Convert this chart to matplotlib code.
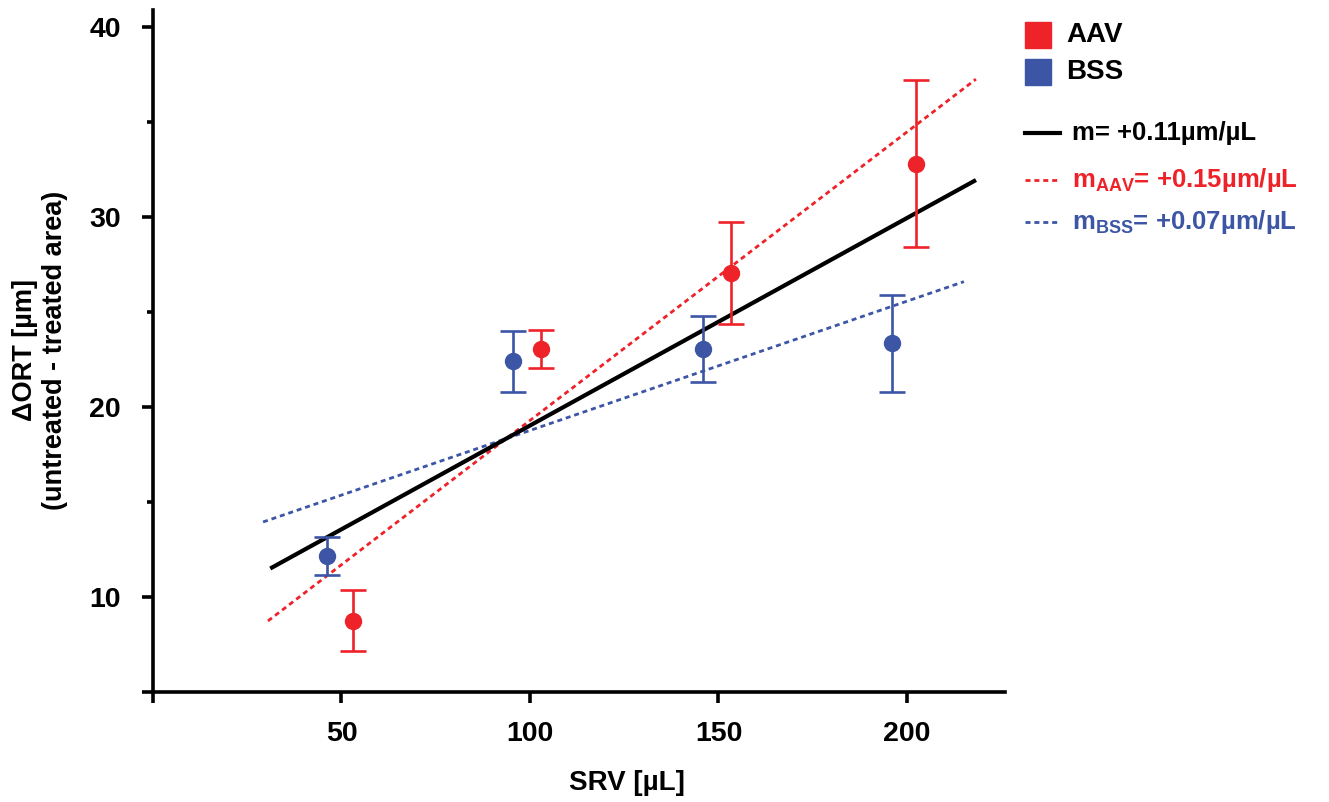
import matplotlib
matplotlib.use("Agg")
import matplotlib.pyplot as plt
from matplotlib.lines import Line2D
from matplotlib.patches import Rectangle

plt.rcParams['font.family'] = ['Liberation Sans', 'DejaVu Sans']
plt.rcParams['font.weight'] = 'bold'
plt.rcParams['mathtext.fontset'] = 'custom'
plt.rcParams['mathtext.rm'] = 'Liberation Sans:bold'
plt.rcParams['mathtext.bf'] = 'Liberation Sans:bold'
plt.rcParams['mathtext.default'] = 'bf'

RED = '#EE2229'
BLUE = '#3C55A5'

# ==== data ====
aav_x = [53.1, 103.0, 153.2, 202.3]
aav_y = [8.75, 23.05, 27.05, 32.8]
aav_err = [1.6, 1.0, 2.7, 4.4]

bss_x = [46.2, 95.6, 146.0, 195.9]
bss_y = [12.15, 22.4, 23.05, 23.35]
bss_err = [1.0, 1.6, 1.75, 2.55]

# regression lines (end points)
fit_all_x = [31.1, 218.3]
fit_all_y = [11.5, 31.95]
fit_aav_x = [30.5, 218.3]
fit_aav_y = [8.74, 37.26]
fit_bss_x = [29.2, 215.1]
fit_bss_y = [13.95, 26.6]

x_ticks = [0, 50, 100, 150, 200]
x_labels = ['', '50', '100', '150', '200']
y_ticks = [5, 10, 20, 30, 40]
y_labels = ['', '10', '20', '30', '40']
y_minor = [15, 25, 35]

# ==== figure ====
fig = plt.figure(figsize=(13.29, 8.02), dpi=100)
ax = fig.add_axes([153 / 1329, 1 - 692 / 802, (1005 - 153) / 1329, (692 - 10) / 802])

ax.plot(fit_all_x, fit_all_y, color='black', lw=3.0, solid_capstyle='butt', zorder=3)
ax.plot(fit_aav_x, fit_aav_y, color=RED, lw=2.0, linestyle=(0, (1.8, 1.4)), zorder=2)
ax.plot(fit_bss_x, fit_bss_y, color=BLUE, lw=2.0, linestyle=(0, (1.8, 1.4)), zorder=2)

ax.errorbar(bss_x, bss_y, yerr=bss_err, fmt='o', color=BLUE, ms=11.5,
            elinewidth=1.9, capsize=9.5, capthick=1.9, zorder=4)
ax.errorbar(aav_x, aav_y, yerr=aav_err, fmt='o', color=RED, ms=11.5,
            elinewidth=1.9, capsize=9.5, capthick=1.9, zorder=4)

ax.set_xlim(0, 226)
ax.set_ylim(5, 40.9)
ax.set_xticks(x_ticks)
ax.set_xticklabels(x_labels)
ax.set_yticks(y_ticks)
ax.set_yticklabels(y_labels)
ax.set_yticks(y_minor, minor=True)

for s in ['top', 'right']:
    ax.spines[s].set_visible(False)
for s in ['left', 'bottom']:
    ax.spines[s].set_linewidth(2.6)

ax.tick_params(which='major', direction='out', length=8, width=2.6, labelsize=20.5)
ax.tick_params(axis='x', which='major', pad=13)
ax.tick_params(axis='y', which='major', pad=15)
ax.tick_params(which='minor', direction='out', length=4.5, width=2.6)

fig.text(627 / 1329, 1 - 783 / 802, 'SRV [µL]', ha='center', va='center', fontsize=20, fontweight='bold')
fig.text(40 / 1329, 1 - 350 / 802, 'ΔORT [µm]\n(untreated - treated area)', rotation=90,
         ha='center', va='center', fontsize=19.5, fontweight='bold', linespacing=1.2,
         multialignment='center')

# ==== legend (manual) ====
W, H = 1329, 802
for y0, col, lab in [(35, RED, 'AAV'), (72, BLUE, 'BSS')]:
    fig.patches.append(Rectangle((1025 / W, 1 - (y0 + 13) / H), 26 / W, 26 / H,
                                 transform=fig.transFigure, color=col))
    fig.text(1066 / W, 1 - y0 / H, lab, ha='left', va='center', fontsize=20, fontweight='bold')

legend_lines = [
    (133, 'black', '-', 3.0, 'm= +0.11µm/µL'),
    (180, RED, (0, (1.8, 1.4)), 2.0, r'm$_{AAV}$= +0.15µm/µL'),
    (222, BLUE, (0, (1.8, 1.4)), 2.0, r'm$_{BSS}$= +0.07µm/µL'),
]
for y0, col, ls, lw, lab in legend_lines:
    fig.add_artist(Line2D([1025 / W, 1060 / W], [1 - y0 / H, 1 - y0 / H], color=col,
                          linestyle=ls, lw=lw, transform=fig.transFigure))
    fig.text(1072 / W, 1 - y0 / H, lab, ha='left', va='center', fontsize=18.5,
             fontweight='bold', color=col)

fig.savefig('out.png', dpi=100)
